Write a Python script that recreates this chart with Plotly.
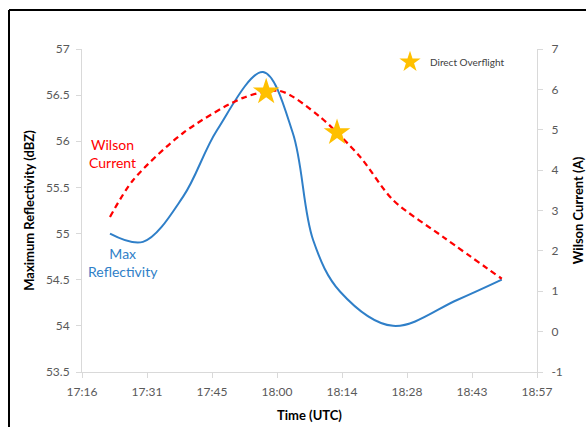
import plotly.graph_objects as go

# Axis tick positions: Excel-style time axis, 0.01-day steps
tick_labels = ["17:16", "17:31", "17:45", "18:00", "18:14", "18:28", "18:43", "18:57"]
tick_days = [0.72, 0.73, 0.74, 0.75, 0.76, 0.77, 0.78, 0.79]
refl_ticks = [53.5, 54, 54.5, 55, 55.5, 56, 56.5, 57]
amp_ticks = [-1, 0, 1, 2, 3, 4, 5, 6, 7]

# Max reflectivity (dBZ) vs time (minutes after midnight)
refl_time = [1043.0, 1050.3, 1059.2, 1066.7, 1076.9, 1083.5, 1088.0, 1094.0, 1105.7, 1119.9, 1129.8]
refl_dbz = [55.00, 54.91, 55.40, 56.12, 56.75, 56.09, 54.93, 54.37, 54.00, 54.28, 54.50]

# Wilson current (A) vs time
wil_time = [1043.0, 1048.1, 1059.2, 1072.5, 1080.7, 1089.5, 1098.4, 1105.7, 1117.0, 1129.8]
wil_amp = [2.84, 3.75, 4.92, 5.79, 5.96, 5.32, 4.33, 3.26, 2.33, 1.31]

# Direct overflight times, on the Wilson current curve
fly_time = [1077.6, 1093.3]
fly_amp = [5.94, 4.93]

tick_min = [d * 1440 for d in tick_days]

FONT = "Lato, 'Open Sans', sans-serif"
GRAY = "#595959"
AXIS = "#D9D9D9"
RED = "#FF0000"
BLUE = "#2F7FC8"
GOLD = "#FFC000"

fig = go.Figure()

fig.add_trace(go.Scatter(
    x=refl_time, y=refl_dbz, mode="lines", name="Max Reflectivity",
    line=dict(color=BLUE, width=2, shape="spline", smoothing=1.0),
    showlegend=False, yaxis="y"))

fig.add_trace(go.Scatter(
    x=wil_time, y=wil_amp, mode="lines", name="Wilson Current",
    line=dict(color=RED, width=2.25, dash="6px,4px", shape="spline", smoothing=0.8),
    showlegend=False, yaxis="y2"))

fig.add_trace(go.Scatter(
    x=fly_time, y=fly_amp, mode="markers", name="Direct Overflight",
    marker=dict(symbol="star", size=20, color=GOLD, line=dict(width=0)),
    showlegend=True, yaxis="y2"))

# page frame (left and top edges)
L, R, T, B = 82, 49, 49, 55
W, H = 586, 427
pw, ph = W - L - R, H - T - B
def px(xp):
    return (xp - L) / pw
def py(yp):
    return (H - B - yp) / ph

fig.add_shape(type="line", xref="paper", yref="paper",
              x0=px(9), x1=px(9), y0=py(10), y1=py(430),
              line=dict(color="black", width=2))
fig.add_shape(type="line", xref="paper", yref="paper",
              x0=px(9), x1=px(590), y0=py(10), y1=py(10),
              line=dict(color="black", width=2))

fig.add_annotation(text="Wilson<br>Current", xref="paper", yref="paper",
                   x=px(112), y=py(153), xanchor="center", yanchor="middle",
                   showarrow=False,
                   font=dict(family=FONT, size=14, color=RED), align="center")
fig.add_annotation(text="Max<br>Reflectivity", xref="paper", yref="paper",
                   x=px(123), y=py(262), xanchor="center", yanchor="middle",
                   showarrow=False,
                   font=dict(family=FONT, size=14, color=BLUE), align="center")

common = dict(showgrid=False, zeroline=False, showline=True, linecolor=AXIS, linewidth=1,
              ticks="outside", tickcolor=AXIS, ticklen=5, automargin=False,
              tickfont=dict(family=FONT, size=12, color=GRAY))

fig.update_layout(
    width=W, height=H,
    margin=dict(l=L, r=R, t=T, b=B),
    paper_bgcolor="white", plot_bgcolor="white",
    font=dict(family=FONT, color=GRAY, size=12),
    xaxis=dict(range=[tick_min[0], tick_min[-1]], tickvals=tick_min, ticktext=tick_labels,
               ticklabelstandoff=4,
               title=dict(text="<b>Time (UTC)</b>", standoff=12,
                          font=dict(family=FONT, size=13, color="black")), **common),
    yaxis=dict(range=[53.5, 57], tickvals=refl_ticks, ticktext=[f"{v:g}" for v in refl_ticks],
               ticklabelstandoff=4,
               title=dict(text="<b>Maximum Reflectivity (dBZ)</b>", standoff=8,
                          font=dict(family=FONT, size=13, color="black")), **common),
    yaxis2=dict(range=[-1, 7], tickvals=amp_ticks, ticktext=[str(v) for v in amp_ticks],
                overlaying="y", side="right", ticklabelstandoff=6,
                title=dict(text="<b>Wilson Current (A)</b>", standoff=12,
                           font=dict(family=FONT, size=13, color="black")), **common),
    legend=dict(x=px(390), y=py(62), xanchor="left", yanchor="middle",
                bgcolor="rgba(0,0,0,0)", font=dict(family=FONT, size=10, color="#404040"),
                itemsizing="trace"),
)

fig.write_html("out.html")
